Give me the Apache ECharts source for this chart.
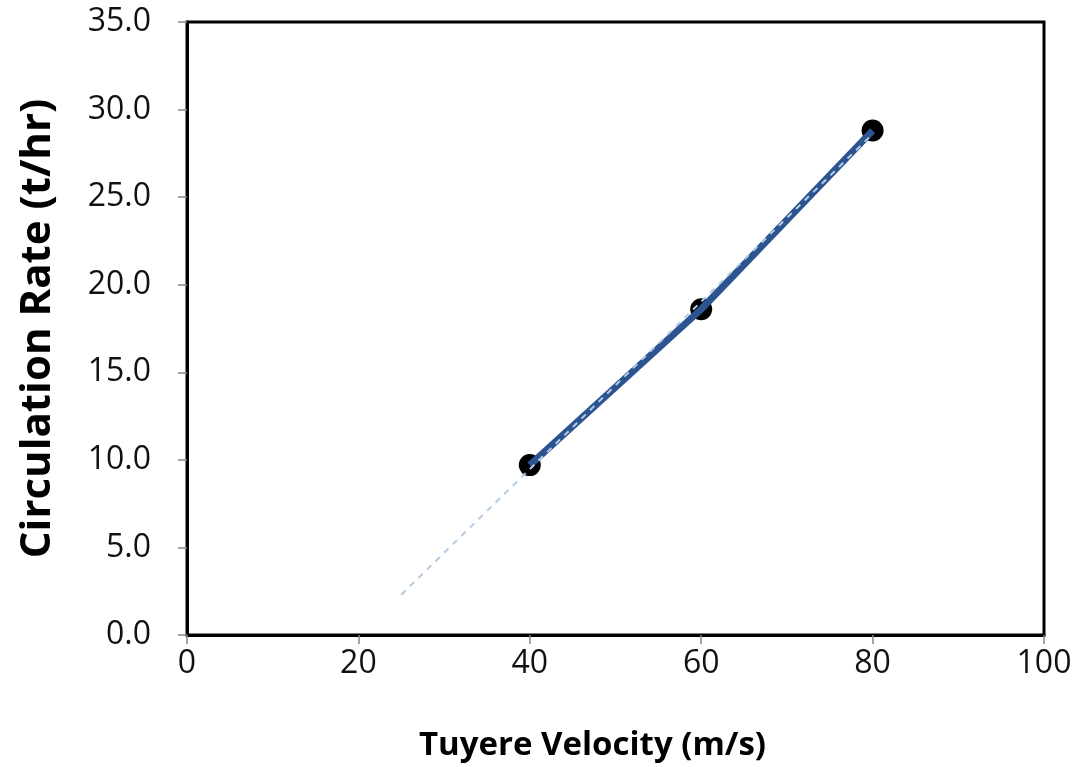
<!DOCTYPE html>
<html>
<head>
<meta charset="utf-8">
<script src="https://cdn.jsdelivr.net/npm/echarts@6/dist/echarts.min.js"></script>
<style>
  html, body { margin: 0; padding: 0; background: #fff; }
  #chart { width: 1079px; height: 767px; }
</style>
</head>
<body>
<div id="chart"></div>
<script>
// 测量数据
const velocity = [40, 60, 80];
const circulation = [9.7, 18.6, 28.8];

// 趋势线两端
const trendX = [25, 80];
const trendY = [2.3, 28.6];

const chart = echarts.init(document.getElementById('chart'));

const pairs = (xs, ys) => xs.map((x, i) => [x, ys[i]]);

const option = {
    backgroundColor: '#fff',
    animation: false,
    grid: {
        left: 187,
        right: 35,
        top: 22,
        bottom: 130,
        show: true,
        borderColor: '#000',
        borderWidth: 3
    },
    xAxis: {
        type: 'value',
        min: 0,
        max: 100,
        interval: 20,
        name: 'Tuyere Velocity (m/s)',
        nameLocation: 'middle',
        nameGap: 94,
        nameTextStyle: {
            fontFamily: 'Open Sans', fontWeight: 'bold', fontSize: 33, color: '#000',
            padding: [0, 46, 0, 0]
        },
        axisLine: { lineStyle: { color: '#000', width: 3 } },
        axisTick: { show: true, length: 9, lineStyle: { color: '#888', width: 1.5 } },
        axisLabel: { fontFamily: 'Open Sans', fontSize: 32, color: '#111', margin: 13 },
        splitLine: { show: false }
    },
    yAxis: {
        type: 'value',
        min: 0,
        max: 35,
        interval: 5,
        name: 'Circulation Rate (t/hr)',
        nameLocation: 'middle',
        nameGap: 128,
        nameTextStyle: { fontFamily: 'Open Sans', fontWeight: 'bold', fontSize: 42, color: '#000' },
        axisLine: { show: true, lineStyle: { color: '#000', width: 3 } },
        axisTick: { show: true, length: 9, lineStyle: { color: '#888', width: 1.5 } },
        axisLabel: {
            fontFamily: 'Open Sans', fontSize: 32, color: '#111', margin: 36,
            formatter: v => v.toFixed(1)
        },
        splitLine: { show: false }
    },
    series: [
        {
            name: '数据点',
            type: 'scatter',
            z: 1,
            symbol: 'circle',
            symbolSize: 22,
            itemStyle: { color: '#000', opacity: 1 },
            data: pairs(velocity, circulation)
        },
        {
            name: '连线',
            type: 'line',
            z: 2,
            showSymbol: false,
            lineStyle: { color: '#2c5490', width: 7 },
            data: pairs(velocity, circulation)
        },
        {
            name: '趋势线',
            type: 'line',
            z: 3,
            showSymbol: false,
            lineStyle: { color: '#b4cbe3', width: 2, type: [6, 6] },
            data: pairs(trendX, trendY)
        }
    ]
};

chart.setOption(option);
</script>
</body>
</html>
